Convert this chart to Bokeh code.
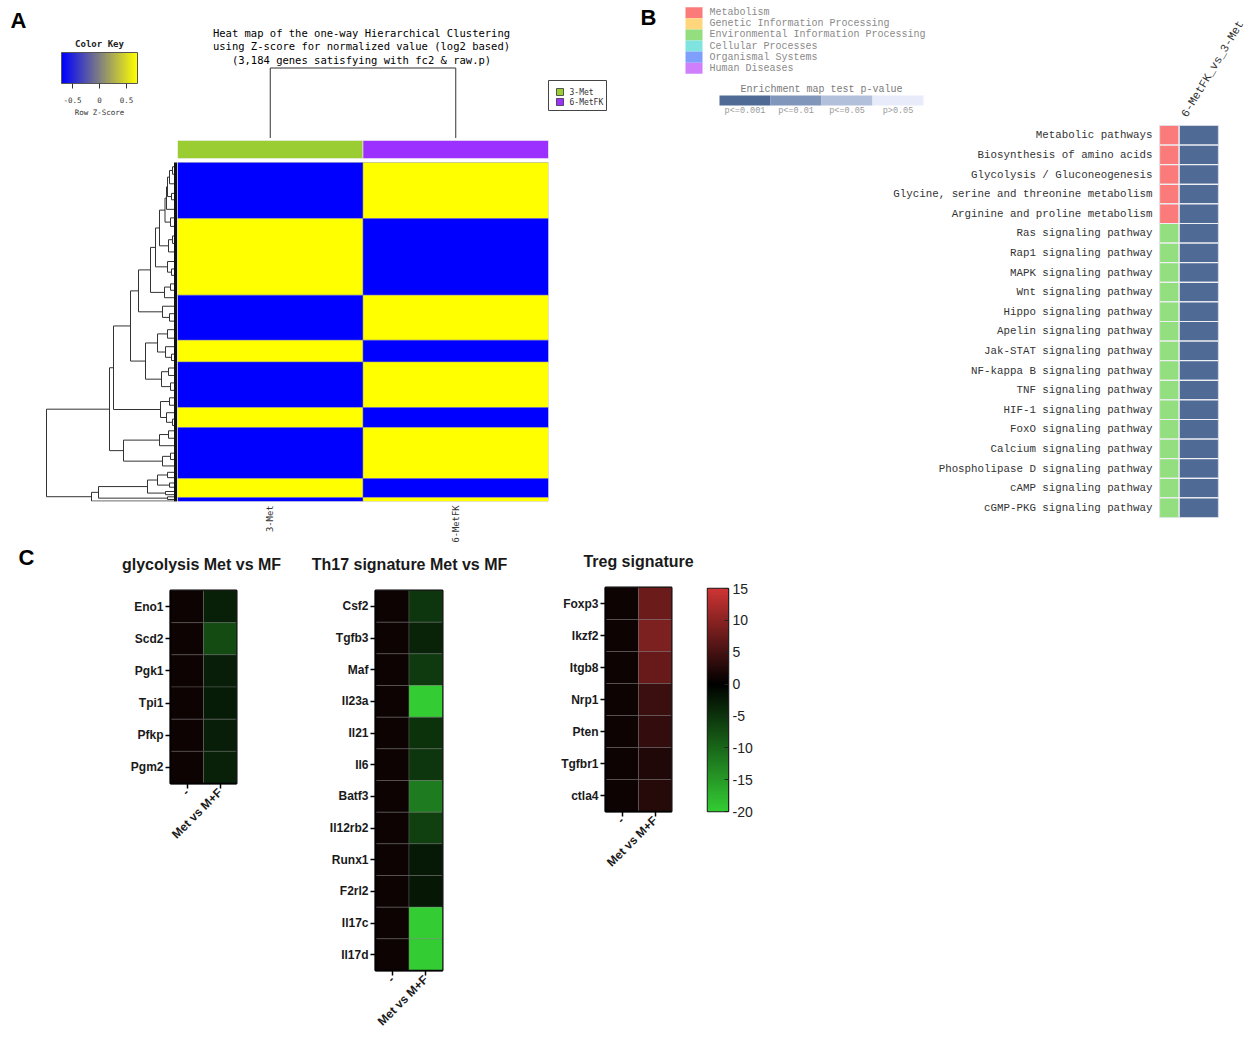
import math
import numpy as np
from bokeh.plotting import figure
from bokeh.models import Range1d, FactorRange, LinearColorMapper, FixedTicker, ColumnDataSource
from bokeh.layouts import row, column
from bokeh.embed import file_html
from bokeh.resources import INLINE
from bokeh.core.properties import value
from bokeh.transform import linear_cmap

# ============================ DATA ============================
# ---- Panel A : hierarchical clustering heat map ----
heat_groups = ["3-Met", "6-MetFK"]
heat_group_colors = ["#9acd32", "#9b30ff"]
heat_block_genes = [526, 720, 423, 204, 428, 188, 479, 178, 38]
heat_z_3met = [-0.707, 0.707, -0.707, 0.707, -0.707, 0.707, -0.707, 0.707, -0.707]
heat_z_6metfk = [0.707, -0.707, 0.707, -0.707, 0.707, -0.707, 0.707, -0.707, 0.707]
key_ticks = [-0.5, 0.0, 0.5]
key_tick_labels = ["-0.5", "0", "0.5"]
heat_title = ["Heat map of the one-way Hierarchical Clustering",
              "using Z-score for normalized value (log2 based)",
              "(3,184 genes satisfying with fc2 & raw.p)"]
# dendrogram: [merge height, left, right]; leaves = gene position
dendro_tree = [13.1,
    [6.8,
        [6.4,
            [4.7,
                [3.9,
                    [2.7,
                        [2.2,
                            [1.8,
                                [1.25,
                                    [1.1, [1.0, [0.8, [0.5, 40, 110], 200], [0.6, 290, 350]], 440],
                                    [0.7, 520, 600]],
                                [0.9, [0.5, 690, 760], 840]],
                            [1.0, 930, [0.6, 1000, 1060]]],
                        [1.3, [0.7, 1140, 1200], 1270]],
                    [1.5, 1350, [0.8, 1420, 1490]]],
                [3.2,
                    [2.0, [1.0, 1570, 1650], [1.2, 1730, [0.6, 1800, 1860]]],
                    [1.6, [0.9, 1930, 2000], [0.7, 2070, 2140]]]],
            [1.7, [0.8, 2210, 2280], [1.1, 2350, [0.5, 2410, 2470]]]],
        [5.4, [1.8, [0.9, 2520, 2590], 2660], [1.5, [0.7, 2730, 2790], 2850]]],
    [8.6,
        [7.9,
            [3.0, [2.0, [1.0, 2910, 2960], [0.8, 3010, 3050]], [1.2, 3090, 3120]],
            [1.0, 3140, 3165]],
        3180]]

# ---- Panel B : KEGG enrichment ----
kegg_classes = ["Metabolism", "Genetic Information Processing",
                "Environmental Information Processing", "Cellular Processes",
                "Organismal Systems", "Human Diseases"]
kegg_class_colors = ["#fb7b7b", "#ffd67c", "#93df7f", "#7fe3df", "#7f9ffc", "#cf7ffb"]
pvalue_bins = ["p<=0.001", "p<=0.01", "p<=0.05", "p>0.05"]
pvalue_colors = ["#4f6a95", "#8096ba", "#b3c0dc", "#e8ecfa"]
comparison = "6-MetFK_vs_3-Met"
pathways = ["Metabolic pathways", "Biosynthesis of amino acids",
            "Glycolysis / Gluconeogenesis", "Glycine, serine and threonine metabolism",
            "Arginine and proline metabolism", "Ras signaling pathway",
            "Rap1 signaling pathway", "MAPK signaling pathway", "Wnt signaling pathway",
            "Hippo signaling pathway", "Apelin signaling pathway",
            "Jak-STAT signaling pathway", "NF-kappa B signaling pathway",
            "TNF signaling pathway", "HIF-1 signaling pathway", "FoxO signaling pathway",
            "Calcium signaling pathway", "Phospholipase D signaling pathway",
            "cAMP signaling pathway", "cGMP-PKG signaling pathway"]
pathway_class = ["Metabolism"] * 5 + ["Environmental Information Processing"] * 15
pathway_pbin = ["p<=0.001"] * 20

# ---- Panel C : signature heat maps ----
c_columns = ["-", "Met vs M+F"]
gly_genes = ["Eno1", "Scd2", "Pgk1", "Tpi1", "Pfkp", "Pgm2"]
gly_ctrl = [1.0, 1.0, 1.0, 1.0, 1.0, 1.0]
gly_mf = [-3.1, -7.3, -3.0, -2.7, -3.0, -3.2]
th17_genes = ["Csf2", "Tgfb3", "Maf", "Il23a", "Il21", "Il6", "Batf3", "Il12rb2",
              "Runx1", "F2rl2", "Il17c", "Il17d"]
th17_ctrl = [1.0, 1.0, 1.0, 1.0, 1.0, 1.0, 1.0, 1.0, 1.0, 1.0, 1.0, 1.0]
th17_mf = [-5.3, -3.4, -5.7, -20.0, -4.9, -5.3, -12.0, -6.3, -2.4, -2.3, -20.0, -20.0]
treg_genes = ["Foxp3", "Ikzf2", "Itgb8", "Nrp1", "Pten", "Tgfbr1", "ctla4"]
treg_ctrl = [1.0, 1.0, 1.0, 1.0, 1.0, 1.0, 1.0]
treg_mf = [7.8, 9.0, 7.5, 4.3, 3.7, 2.4, 2.8]
cbar_ticks = [15, 10, 5, 0, -5, -10, -15, -20]
cbar_low, cbar_high = -20, 15

# ============================ HELPERS ============================
MONO_A = value("DejaVu Sans Mono")
MONO_B = value("Liberation Mono")
SANS = value("Liberation Sans")


def hexc(r, g, b):
    return "#%02x%02x%02x" % (int(round(r)), int(round(g)), int(round(b)))


def gr_palette(n=256):
    pal = []
    for v in np.linspace(cbar_low, cbar_high, n):
        if v < 0:
            t = min(1.0, v / cbar_low)
            pal.append(hexc(51 * t, 204 * t, 51 * t))
        else:
            t = v / cbar_high
            pal.append(hexc(206 * t, 52 * t, 52 * t))
    return pal


def byg_palette(n=256):
    pal = []
    for t in np.linspace(0, 1, n):
        if t < 0.5:
            s = t / 0.5
            pal.append(hexc(128 * s, 128 * s, 255 - 127 * s))
        else:
            s = (t - 0.5) / 0.5
            pal.append(hexc(128 + 127 * s, 128 + 127 * s, 128 - 128 * s))
    return pal


GR = gr_palette()
BYG = byg_palette()


def fig(**kw):
    p = figure(toolbar_location=None, output_backend="svg", **kw)
    p.frame_align = False
    p.grid.grid_line_color = None
    return p


def canvas(x0, y0, w, h):
    p = fig(width=w, height=h, x_range=Range1d(x0, x0 + w), y_range=Range1d(y0 + h, y0),
            x_axis_location=None, y_axis_location=None, min_border=0)
    p.outline_line_color = None
    return p


def txt(p, xs, ys, texts, font, size, color="#222222", align="left", baseline="middle",
        style="normal", angle=0):
    p.text(x=xs, y=ys, text=texts, text_font=font, text_font_size=size, text_color=color,
           text_align=align, text_baseline=baseline, text_font_style=style,
           angle=angle, angle_units="deg")


# ============================ PANEL A ============================
HEAT_L, HEAT_R, HEAT_T, HEAT_B = 177.0, 548.0, 162.0, 501.0
n_genes = sum(heat_block_genes)
gpp = n_genes / (HEAT_B - HEAT_T)           # genes per pixel
A_BOT_TOP = 138.0
y_top_gene = -(HEAT_T - A_BOT_TOP) * gpp

a_top = canvas(0, 0, 628, 138)
txt(a_top, [10], [19.5], ["A"], SANS, "22px", "#000000", style="bold")
key_c, key_ppu = 99.0, 54.0
key_lo, key_hi = (61 - key_c) / key_ppu, (137 - key_c) / key_ppu
key_grad = np.linspace(key_lo, key_hi, 200).reshape(1, -1)
a_top.image(image=[key_grad], x=61, y=52, dw=76, dh=31,
            color_mapper=LinearColorMapper(palette=BYG, low=key_lo, high=key_hi))
a_top.quad(left=[61], right=[137], top=[52], bottom=[83], fill_color=None,
           line_color="#555555", line_width=1)
kx = [key_c + t * key_ppu for t in key_ticks]
a_top.segment(x0=kx, y0=[83] * 3, x1=kx, y1=[88] * 3, line_color="#333333", line_width=1)
txt(a_top, kx, [99] * 3, key_tick_labels, MONO_A, "7.5px", "#333333", align="center")
txt(a_top, [99], [43.5], ["Color Key"], MONO_A, "9px", "#222222", align="center", style="bold")
txt(a_top, [99], [112], ["Row Z-Score"], MONO_A, "7.5px", "#333333", align="center")
txt(a_top, [361] * 3, [32, 45.5, 59], heat_title, MONO_A, "10.5px", "#000000", align="center")
colw = (HEAT_R - HEAT_L) / len(heat_groups)
cx = [HEAT_L + (i + 0.5) * colw for i in range(len(heat_groups))]
a_top.segment(x0=[cx[0], cx[0], cx[1]], y0=[67.5, 67.5, 67.5], x1=[cx[1], cx[0], cx[1]],
              y1=[67.5, 138, 138], line_color="#333333", line_width=1)
a_top.quad(left=[548], right=[606], top=[80], bottom=[110], fill_color="white",
           line_color="#444444", line_width=1)
a_top.quad(left=[556, 556], right=[563, 563], top=[88, 98], bottom=[95, 105],
           fill_color=heat_group_colors, line_color="#333333", line_width=0.8)
txt(a_top, [569, 569], [91.5, 101.5], heat_groups, MONO_A, "8px", "#333333")

# row dendrogram
a_den = fig(width=177, height=407, x_range=Range1d(17.7, 0), y_range=Range1d(n_genes, y_top_gene),
            x_axis_location=None, y_axis_location=None, min_border=0, min_border_bottom=44)
a_den.outline_line_color = None
segs = {"x0": [], "y0": [], "x1": [], "y1": []}


def walk(node):
    if not isinstance(node, list):
        return float(node), 0.0
    h, a, b = node
    ya, ha = walk(a)
    yb, hb = walk(b)
    for s in [(h, ya, h, yb), (h, ya, ha, ya), (h, yb, hb, yb)]:
        segs["x0"].append(s[0]); segs["y0"].append(s[1])
        segs["x1"].append(s[2]); segs["y1"].append(s[3])
    return (ya + yb) / 2.0, h


walk(dendro_tree)
a_den.segment(x0="x0", y0="y0", x1="x1", y1="y1", source=ColumnDataSource(segs),
              line_color="#333333", line_width=1)
a_den.quad(left=[0.35], right=[0], top=[0], bottom=[n_genes], fill_color="#111111",
           line_color=None)

# heat map
a_heat = fig(width=451, height=407, x_range=FactorRange(*heat_groups),
             y_range=Range1d(n_genes, y_top_gene), y_axis_location=None, min_border=0,
             min_border_right=80, min_border_bottom=44)
a_heat.outline_line_color = None
starts = np.cumsum([0] + heat_block_genes[:-1])
mids = [float(s + g / 2.0) for s, g in zip(starts, heat_block_genes)]
hm = ColumnDataSource(dict(
    x=[heat_groups[0]] * len(mids) + [heat_groups[1]] * len(mids),
    y=mids + mids, h=heat_block_genes + heat_block_genes,
    z=heat_z_3met + heat_z_6metfk))
a_heat.rect(x="x", y="y", width=1, height="h", source=hm,
            fill_color=linear_cmap("z", BYG, key_lo, key_hi),
            line_color="#8080a0", line_width=0.6, line_alpha=0.7)
bar_mid = -(HEAT_T - 149.0) * gpp
a_heat.rect(x=heat_groups, y=[bar_mid] * 2, width=1, height=18 * gpp,
            fill_color=heat_group_colors, line_color="#eeeeee", line_width=0.6)
ax = a_heat.xaxis[0]
ax.major_label_orientation = math.pi / 2
ax.axis_line_color = None
ax.major_tick_line_color = None
ax.major_tick_out = 0
ax.major_tick_in = 0
ax.minor_tick_line_color = None
ax.minor_tick_out = 0
ax.major_label_text_font = "DejaVu Sans Mono"
ax.major_label_text_font_size = "8.8px"
ax.major_label_text_color = "#333333"
ax.major_label_standoff = 4

panel_a = column(a_top, row(a_den, a_heat))

# ============================ PANEL B ============================
b_top = canvas(628, 0, 622, 122)
txt(b_top, [640], [16.5], ["B"], SANS, "22px", "#000000", style="bold")
leg_h = 11.1
b_top.quad(left=[685] * 6, right=[702] * 6,
           top=[6.7 + i * leg_h for i in range(6)], bottom=[6.7 + (i + 1) * leg_h for i in range(6)],
           fill_color=kegg_class_colors, line_color=None)
txt(b_top, [709] * 6, [6.7 + (i + 0.5) * leg_h for i in range(6)], kegg_classes, MONO_B,
    "10px", "#8a8a8a")
txt(b_top, [821], [89], ["Enrichment map test p-value"], MONO_B, "10px", "#7a7a7a",
    align="center")
seg_w = 51.0
b_top.quad(left=[719 + i * seg_w for i in range(4)], right=[719 + (i + 1) * seg_w for i in range(4)],
           top=[95] * 4, bottom=[105] * 4, fill_color=pvalue_colors, line_color=None)
txt(b_top, [719 + (i + 0.5) * seg_w for i in range(4)], [110] * 4, pvalue_bins, MONO_B,
    "8.5px", "#9a9a9a", align="center")
txt(b_top, [1189], [119], [comparison], MONO_B, "11.5px", "#333333", baseline="bottom", angle=59)

b_bot = fig(width=622, height=423, x_range=Range1d(0, 3), y_range=FactorRange(*pathways[::-1]),
            x_axis_location=None, min_border=0, min_border_left=531, min_border_right=32,
            min_border_top=3, min_border_bottom=28)
b_bot.outline_line_color = "#d9dee8"
cls_col = {c: col for c, col in zip(kegg_classes, kegg_class_colors)}
pv_col = {c: col for c, col in zip(pvalue_bins, pvalue_colors)}
b_bot.rect(x=[0.5] * len(pathways), y=pathways, width=1, height=1,
           fill_color=[cls_col[c] for c in pathway_class], line_color="#eef0f4", line_width=1.2)
b_bot.rect(x=[2.0] * len(pathways), y=pathways, width=2, height=1,
           fill_color=[pv_col[c] for c in pathway_pbin], line_color="#eef0f4", line_width=1.2)
yb = b_bot.yaxis[0]
yb.axis_line_color = None
yb.major_tick_line_color = None
yb.major_tick_out = 0
yb.major_tick_in = 0
yb.minor_tick_line_color = None
yb.minor_tick_out = 0
yb.major_label_text_font = "Liberation Mono"
yb.major_label_text_font_size = "10.8px"
yb.major_label_text_color = "#333333"
yb.major_label_standoff = 7

panel_b = column(b_top, b_bot)

# ============================ PANEL C ============================
ROW_Y = 545
ROW_H = 491
TITLE_H = 35


def c_heat(genes, ctrl, mf, x0, width, left, right, frame_top, fh, title, title_cx, title_cy):
    n = len(genes)
    h = ROW_H - TITLE_H
    top = frame_top - (ROW_Y + TITLE_H)
    p = fig(width=width, height=h, x_range=FactorRange(*c_columns),
            y_range=FactorRange(*genes[::-1]),
            min_border=0, min_border_left=left, min_border_right=right,
            min_border_top=top, min_border_bottom=h - top - fh)
    src = ColumnDataSource(dict(x=[c_columns[0]] * n + [c_columns[1]] * n,
                                y=genes + genes, v=ctrl + mf))
    p.rect(x="x", y="y", width=1, height=1, source=src,
           fill_color=linear_cmap("v", GR, cbar_low, cbar_high),
           line_color="#707070", line_alpha=0.45, line_width=0.8)
    p.outline_line_color = "black"
    p.outline_line_width = 2
    for a in p.axis:
        a.axis_line_color = "black"
        a.axis_line_width = 1.5
        a.major_tick_line_color = "black"
        a.major_tick_line_width = 1.5
        a.major_tick_out = 5
        a.major_tick_in = 0
        a.minor_tick_line_color = None
        a.major_label_text_font = "Liberation Sans"
        a.major_label_text_font_size = "12px"
        a.major_label_text_font_style = "bold"
        a.major_label_text_color = "#1a1a1a"
        a.major_label_standoff = 2
    p.xaxis.major_label_orientation = math.pi / 4
    t = canvas(x0, ROW_Y, width, TITLE_H)
    txt(t, [title_cx], [title_cy], [title], SANS, "16px", "#1a1a1a", align="center",
        style="bold")
    return column(t, p)


c_letter = canvas(0, ROW_Y, 120, ROW_H)
txt(c_letter, [18], [557], ["C"], SANS, "22px", "#000000", style="bold")
c_gly = c_heat(gly_genes, gly_ctrl, gly_mf, 120, 180, 50, 64, 590, 193,
               "glycolysis Met vs MF", 201, 564)
c_th17 = c_heat(th17_genes, th17_ctrl, th17_mf, 300, 230, 75, 88, 590, 385,
                "Th17 signature Met vs MF", 409, 564)
c_treg = c_heat(treg_genes, treg_ctrl, treg_mf, 530, 170, 75, 29, 587, 224,
                "Treg signature", 638, 561)

cb = fig(width=90, height=ROW_H, x_range=Range1d(0, 1), y_range=Range1d(cbar_low, cbar_high),
         x_axis_location=None, y_axis_location="right", min_border=0, min_border_left=7,
         min_border_right=62, min_border_top=43, min_border_bottom=ROW_H - 43 - 223)
grad = np.linspace(cbar_low, cbar_high, 400).reshape(-1, 1)
cb.image(image=[grad], x=0, y=cbar_low, dw=1, dh=cbar_high - cbar_low,
         color_mapper=LinearColorMapper(palette=GR, low=cbar_low, high=cbar_high))
cb.outline_line_color = "#222222"
cb.outline_line_width = 1.5
ya = cb.yaxis[0]
ya.ticker = FixedTicker(ticks=cbar_ticks)
ya.major_label_overrides = {t: str(t) for t in cbar_ticks}
ya.axis_line_color = "#222222"
ya.major_tick_in = 4
ya.major_tick_out = 0
ya.major_tick_line_color = "#222222"
ya.minor_tick_line_color = None
ya.major_label_text_font = "Liberation Sans"
ya.major_label_text_font_size = "14px"
ya.major_label_text_color = "#222222"
ya.major_label_standoff = 4

panel_c = row(c_letter, c_gly, c_th17, c_treg, cb)

layout = column(row(panel_a, panel_b), panel_c)
open("out.html", "w").write(file_html(layout, INLINE))
